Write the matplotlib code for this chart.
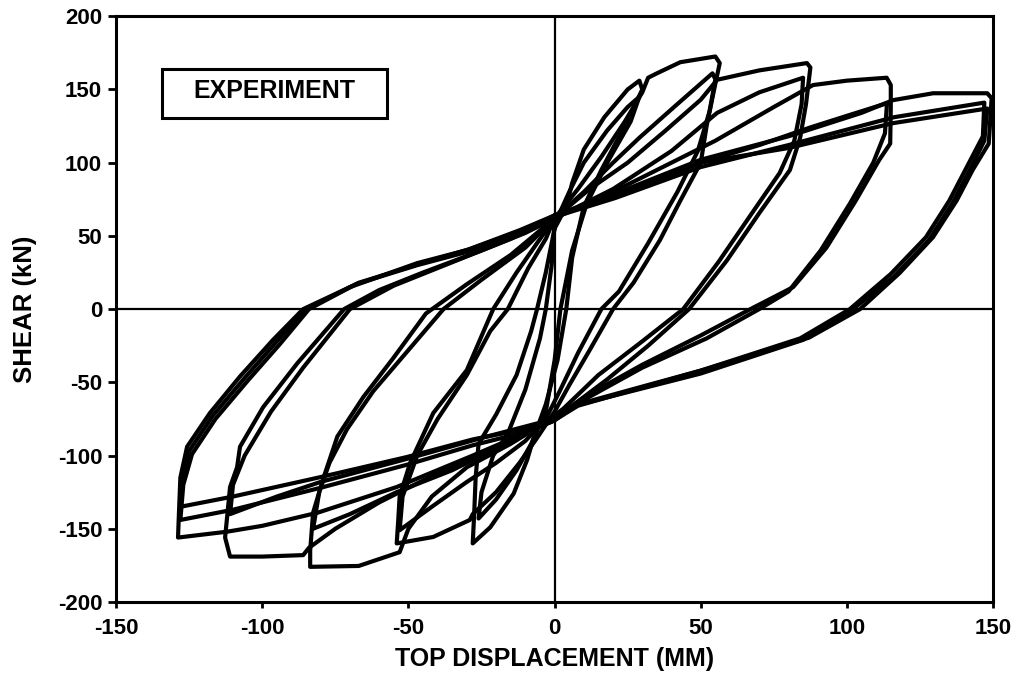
import matplotlib
matplotlib.use('Agg')
import matplotlib.pyplot as plt
from matplotlib.patches import Rectangle

plt.rcParams['font.family'] = ['Liberation Sans', 'DejaVu Sans']
plt.rcParams['font.weight'] = 'bold'
plt.rcParams['axes.unicode_minus'] = False

# load cycles, (top displacement mm, shear kN), each closed loop
# starts and ends near the upper pinch point
cycle_1a = [(0, 55), (4, 70), (6, 86), (10, 109), (17, 131), (25, 150), (29, 156), (30, 150),
            (24, 125), (16, 95), (10, 70), (6, 35), (4, 0), (1, -35), (-3, -65), (-7, -87),
            (-9.4, -103), (-14, -126), (-22, -149), (-28, -160), (-27.5, -140), (-27, -115),
            (-26, -92), (-20, -72), (-13, -45), (-8, -15), (-6, 0), (-3, 25), (0, 55)]
cycle_1b = [(0, 58), (5, 80), (10, 100), (18, 122), (25, 138), (29, 145), (26, 128), (18, 100),
            (11, 72), (6, 40), (2, 0), (0, -35), (-3, -70), (-8, -92), (-13, -110), (-20, -130),
            (-26, -143), (-25, -125), (-21, -100), (-16, -85), (-10, -55), (-5, -20), (-3, 0),
            (-1, 30), (0, 58)]

cycle_2a = [(0, 62), (8, 82), (16, 104), (24, 128), (30, 148), (32, 158), (35, 161), (43, 168.6),
            (55, 172.5), (56.5, 168), (55, 154), (52, 125), (50, 100), (43, 74), (36, 47), (27, 18),
            (20, 0), (12, -28), (5, -52), (0, -70), (-6, -88), (-12, -105), (-20, -125), (-28, -140),
            (-29, -144), (-41.5, -155.6), (-54, -160), (-53.5, -145), (-53, -128), (-49.4, -105),
            (-41.5, -71), (-30, -41.6), (-21, 0), (-13, 25), (-6, 45), (0, 62)]
cycle_2b = [(0, 62), (10, 80), (20, 100), (29, 117), (42, 140), (54, 161), (55, 157), (53, 135),
            (49, 108), (42, 80), (32, 45), (22, 12), (16, 0), (8, -30), (2, -55), (-3, -75),
            (-10, -90), (-20, -105), (-30, -118), (-42, -135), (-53, -151), (-52, -128), (-47, -100),
            (-40, -75), (-30, -45), (-22, -15), (-16, 0), (-9, 28), (-3, 48), (0, 62)]

cycle_3a = [(0, 62), (12, 82), (25, 100), (38, 122), (50, 143), (55.6, 156.6), (70, 163), (86.3, 168),
            (87.5, 165), (86, 140), (84, 117), (80.5, 95), (70, 65.5), (59, 33.4), (46, 0), (32, -25),
            (18, -48), (6, -66), (-2, -76), (-15, -92), (-30, -108), (-42, -128), (-50, -150),
            (-53, -166), (-67, -175.4), (-83.6, -176), (-83.6, -165), (-82.6, -139), (-79, -115),
            (-74.3, -87), (-65.4, -60), (-55, -33), (-44, -3), (-30, 17), (-15, 37), (0, 62)]
cycle_3b = [(0, 62), (20, 82), (40, 108), (55.6, 134), (70, 148), (85, 158), (84.5, 140), (82, 115),
            (77, 93), (67, 64), (56, 32), (44, 0), (30, -22), (15, -45), (3, -68), (-3, -77),
            (-20, -95), (-35, -110), (-54, -125), (-70, -140), (-82.6, -150), (-80.5, -125),
            (-77, -105), (-71, -82), (-62, -56), (-50, -28), (-38, 0), (-25, 20), (-10, 42), (0, 62)]

cycle_4a = [(0, 62), (25, 85), (55, 115), (75, 138), (88.4, 153), (100, 156), (113.6, 158), (115, 153),
            (115, 138), (114.8, 113), (111, 101.7), (103, 74), (93, 42), (81.6, 15), (67, 0),
            (50, -18), (30, -38), (12, -58), (0, -74), (-20, -95), (-40, -112), (-60, -132),
            (-75, -150), (-84, -163), (-86, -168), (-100, -169), (-111, -169), (-112.7, -156),
            (-111, -121.5), (-108.6, -108), (-107.6, -94), (-99.7, -67), (-88, -37), (-72, 0),
            (-60, 13), (-45, 25), (-25, 40), (-10, 52), (0, 62)]
cycle_4b = [(0, 64), (21, 78), (50, 100), (70, 112), (87.4, 124), (100, 132), (113.7, 140.6),
            (113, 120), (109, 100), (101, 72), (91, 40), (80, 12), (70, 0), (52, -20), (30, -40),
            (10, -62), (-2, -76), (-25, -88), (-50, -102), (-80, -118), (-95, -128), (-111, -140),
            (-110, -120), (-106, -100), (-97, -70), (-86, -40), (-70, 0), (-55, 16), (-35, 32),
            (-15, 48), (0, 62)]

cycle_5a = [(0, 64), (21, 79), (50, 102), (80, 118), (105, 134), (115.8, 142.7), (129.5, 147.4),
            (148, 147.4), (149.5, 144), (148.5, 113), (143, 95), (137.5, 74), (129.4, 49), (118, 24.6),
            (104.5, 0), (87, -19.5), (70, -30), (50, -42), (28, -54), (8, -65), (0, -76), (-28, -100),
            (-54, -121.5), (-81, -139), (-100, -148), (-112, -152), (-128.8, -156), (-128.5, -140),
            (-128, -115), (-125.7, -94), (-117.9, -71), (-107.6, -46), (-96.3, -21), (-86, 0),
            (-70, 15), (-47, 31.4), (-30, 40.3), (-11.8, 54), (0, 64)]
cycle_5b = [(0, 64), (21, 77), (50, 100), (80, 110), (115.8, 127), (148, 137), (147, 115), (142, 95),
            (136, 72), (128, 47), (116, 22), (102, 0), (85, -21), (50, -44), (7.7, -65.5), (-1, -76),
            (-11.8, -82.6), (-28, -89), (-50.5, -101), (-80, -114.7), (-110, -128), (-128, -135),
            (-127.5, -118), (-125, -97), (-117, -73), (-106, -47), (-95, -22), (-85, 0), (-68, 17),
            (-47, 30), (-30, 39), (-12, 52), (0, 64)]
cycle_5c = [(0, 63), (21, 76), (50, 97), (80, 112), (116, 131), (147, 141), (146.5, 118), (141, 97),
            (135, 74), (127, 49), (115, 24), (101, 0), (84, -20), (50, -42), (8, -66), (-1, -77),
            (-12, -85), (-28, -93), (-50, -106), (-80, -122), (-110, -137), (-128, -144),
            (-127, -120), (-124, -99), (-116, -75), (-105, -49), (-94, -24), (-84, 0), (-67, 18),
            (-46, 31), (-29, 41), (-12, 53), (0, 63)]

cycles = [cycle_1a, cycle_1b, cycle_2a, cycle_2b, cycle_3a, cycle_3b,
          cycle_4a, cycle_4b, cycle_5a, cycle_5b, cycle_5c]

x_ticks = [-150, -100, -50, 0, 50, 100, 150]
y_ticks = [-200, -150, -100, -50, 0, 50, 100, 150, 200]

fig = plt.figure(figsize=(10.27, 6.76), dpi=100)
ax = fig.add_axes([0.113, 0.1095, 0.854, 0.8665])

# zero lines
ax.axhline(0, color='black', lw=1.6, zorder=1)
ax.axvline(0, color='black', lw=1.6, zorder=1)

for c in cycles:
    xs = [p[0] for p in c]
    ys = [p[1] for p in c]
    ax.plot(xs, ys, color='black', lw=3.0, solid_joinstyle='round',
            solid_capstyle='round', zorder=2)

ax.set_xlim(-150, 150)
ax.set_ylim(-200, 200)
ax.set_xticks(x_ticks)
ax.set_yticks(y_ticks)
ax.set_xticklabels([str(t) for t in x_ticks])
ax.set_yticklabels([str(t) for t in y_ticks])
ax.tick_params(axis='both', direction='out', width=2, labelsize=16, colors='black')
ax.tick_params(axis='y', length=6, pad=4)
ax.tick_params(axis='x', length=4, pad=7.5)
for s in ax.spines.values():
    s.set_linewidth(2.2)

ax.set_xlabel('TOP DISPLACEMENT (MM)', fontsize=18, fontweight='bold', labelpad=6)
ax.set_ylabel('SHEAR (kN)', fontsize=18.5, fontweight='bold', labelpad=15)

# label box in the upper left corner
ax.add_patch(Rectangle((0.0525, 0.826), 0.2566, 0.0836, transform=ax.transAxes,
                       fill=False, edgecolor='black', lw=2.2, zorder=3))
ax.text(0.1805, 0.873, 'EXPERIMENT', transform=ax.transAxes, fontsize=18,
        fontweight='bold', ha='center', va='center', zorder=3)

fig.savefig('out.png', dpi=100)
